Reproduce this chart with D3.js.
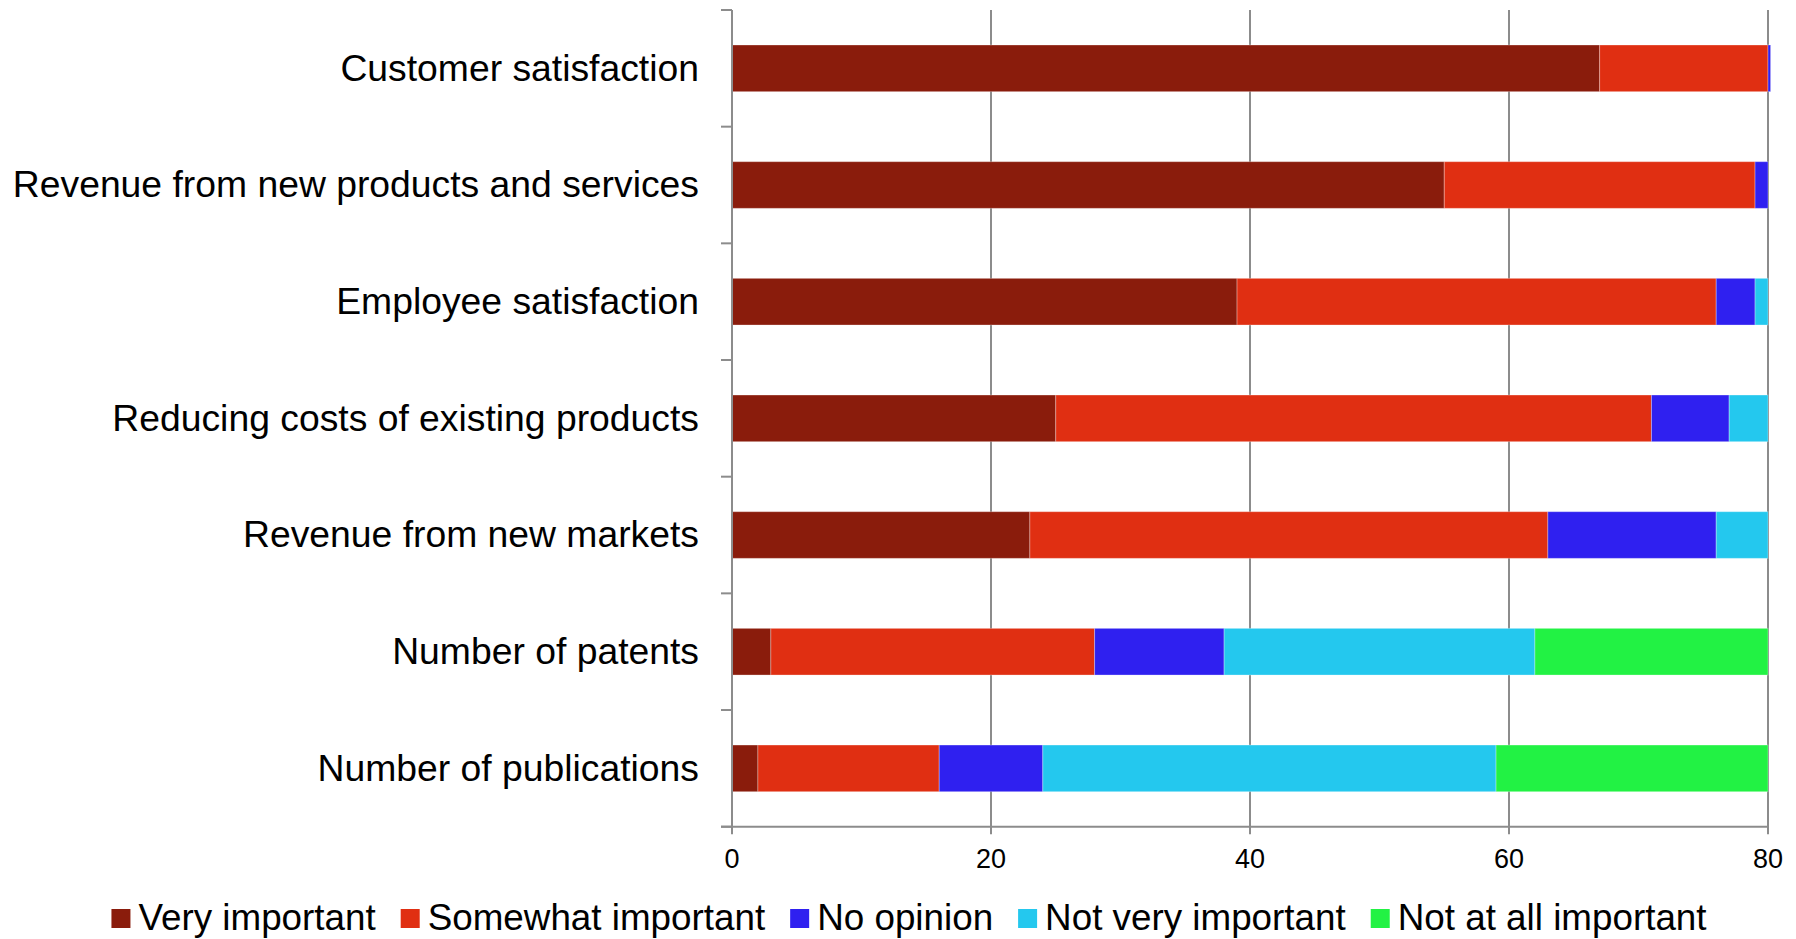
<!DOCTYPE html>
<html>
<head>
<meta charset="utf-8">
<script src="https://cdn.jsdelivr.net/npm/d3@7"></script>
<style>
  html, body { margin: 0; padding: 0; background: #fff; }
  svg { display: block; }
  text { font-family: "Liberation Sans", Arial, Helvetica, sans-serif; fill: #000; }
</style>
</head>
<body>
<svg id="chart" width="1796" height="939"></svg>
<script>
// ---- data ----
const categories = [
  "Customer satisfaction",
  "Revenue from new products and services",
  "Employee satisfaction",
  "Reducing costs of existing products",
  "Revenue from new markets",
  "Number of patents",
  "Number of publications"
];
const seriesNames = ["Very important", "Somewhat important", "No opinion", "Not very important", "Not at all important"];
const veryImportant     = [67, 55, 39, 25, 23,  3,  2];
const somewhatImportant = [13, 24, 37, 46, 40, 25, 14];
const noOpinion         = [0.2, 1,  3,  6, 13, 10,  8];
const notVeryImportant  = [0,  0,  1,  3,  4, 24, 35];
const notAtAllImportant = [0,  0,  0,  0,  0, 18, 21];
const xTicks = [0, 20, 40, 60, 80];
const colors = ["#8a1c0c", "#e02f12", "#2f20f0", "#24c8ee", "#22f244"];

(function () {
// ---- build table ----
const seriesValues = [veryImportant, somewhatImportant, noOpinion, notVeryImportant, notAtAllImportant];
const table = categories.map((c, i) => {
  const row = { category: c };
  seriesNames.forEach((s, j) => row[s] = seriesValues[j][i]);
  return row;
});
const stacked = d3.stack().keys(seriesNames)(table);

const svg = d3.select("#chart");
const pLeft = 732, pRight = 1768, pTop = 10, pBottom = 826.7;

const x = d3.scaleLinear().domain([0, 80]).range([pLeft, pRight]);
const y = d3.scaleBand().domain(categories).range([pTop, pBottom]).paddingInner(0.6).paddingOuter(0.3);
const color = d3.scaleOrdinal().domain(seriesNames).range(colors);

const axisColor = "#8c8c8c";

// gridlines (extend below axis as ticks)
svg.append("g").selectAll("line").data(xTicks.slice(1)).join("line")
  .attr("x1", d => x(d)).attr("x2", d => x(d))
  .attr("y1", pTop).attr("y2", pBottom + 7.5)
  .attr("stroke", axisColor).attr("stroke-width", 2);

// bars
svg.append("g").selectAll("g").data(stacked).join("g")
  .attr("fill", d => color(d.key))
  .selectAll("rect").data(d => d.filter(s => s[1] > s[0])).join("rect")
  .attr("x", d => x(d[0]))
  .attr("y", d => y(d.data.category))
  .attr("width", d => Math.max(0, x(d[1]) - x(d[0])))
  .attr("height", y.bandwidth())
  .attr("stroke", "rgba(255,255,255,0.3)")
  .attr("stroke-width", 1);

// x axis line
svg.append("line").attr("x1", pLeft - 11).attr("x2", pRight)
  .attr("y1", pBottom).attr("y2", pBottom)
  .attr("stroke", axisColor).attr("stroke-width", 2);
// y axis line (extends below as zero tick)
svg.append("line").attr("x1", x(0)).attr("x2", x(0))
  .attr("y1", pTop).attr("y2", pBottom + 7.5)
  .attr("stroke", axisColor).attr("stroke-width", 2);

// y axis boundary ticks
const boundaries = d3.range(categories.length + 1).map(i => pTop + i * y.step());
svg.append("g").selectAll("line").data(boundaries).join("line")
  .attr("x1", pLeft - 11).attr("x2", pLeft)
  .attr("y1", d => d).attr("y2", d => d)
  .attr("stroke", axisColor).attr("stroke-width", 2);

// x tick labels
svg.append("g").selectAll("text").data(xTicks).join("text")
  .attr("x", d => x(d)).attr("y", 868)
  .attr("text-anchor", "middle")
  .style("font-size", "27px")
  .text(d => d);

// category labels
svg.append("g").selectAll("text").data(categories).join("text")
  .attr("x", 699)
  .attr("y", d => y(d) + y.bandwidth() / 2)
  .attr("dy", "0.33em")
  .attr("text-anchor", "end")
  .style("font-size", "37.3px")
  .text(d => d);

// legend
const legend = svg.append("g");
const items = legend.selectAll("g").data(seriesNames).join("g");
items.append("rect").attr("width", 19).attr("height", 19).attr("y", 909)
  .attr("fill", d => color(d));
items.append("text").attr("x", 27).attr("y", 930)
  .style("font-size", "36.8px").text(d => d);
const widths = [];
items.each(function () {
  widths.push(this.querySelector("text").getComputedTextLength() + 27);
});
const total = d3.sum(widths) + 25 * (widths.length - 1);
let start = 909 - total / 2;
items.attr("transform", (d, i) => {
  const t = `translate(${start},0)`;
  start += widths[i] + 25;
  return t;
});
})();
</script>
</body>
</html>
